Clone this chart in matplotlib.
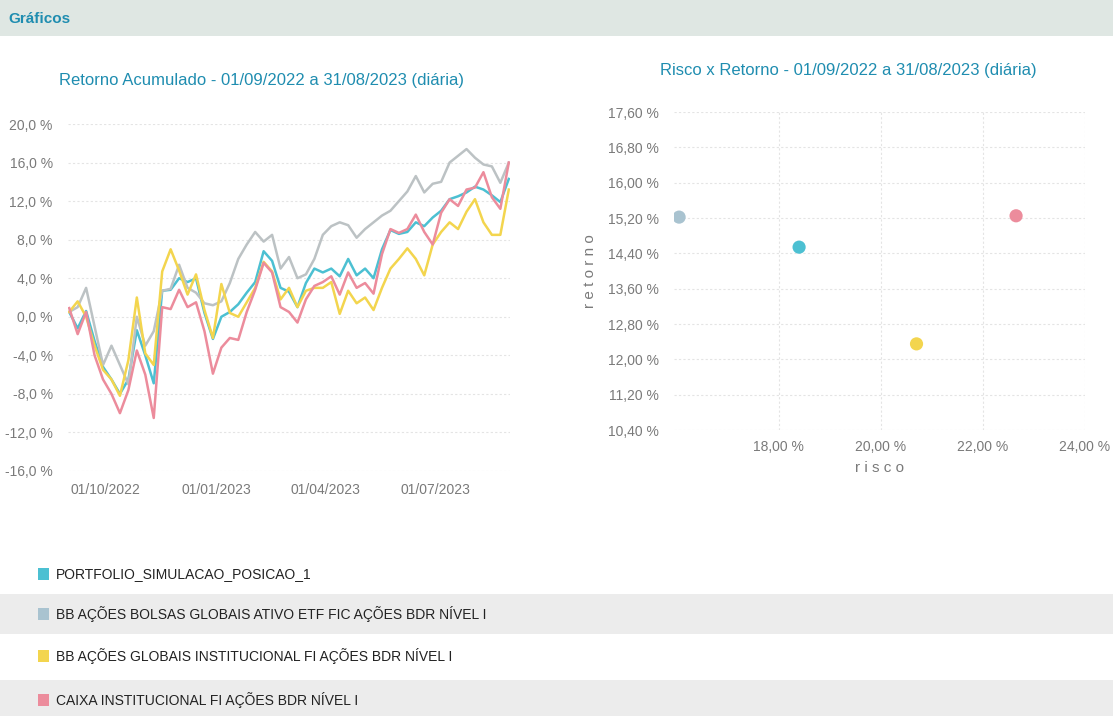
"""
Gráficos: Retorno Acumulado e Risco x Retorno (01/09/2022 a 31/08/2023).
Salva out.png.
"""

import pandas as pd
import matplotlib.pyplot as plt
import matplotlib.dates as mdates
from matplotlib.ticker import FuncFormatter, MultipleLocator
from matplotlib.patches import Rectangle

plt.rcParams["font.family"] = ["Liberation Sans", "DejaVu Sans"]

# Séries (valores semanais, % acumulado)
datas = pd.date_range("2022-09-01", periods=53, freq="7D")

portfolio = [0.5, -1.2, 0.6, -2.5, -5.2, -6.5, -8.0, -6.5, -1.4, -4.0, -6.9,
             2.7, 2.8, 4.0, 3.6, 4.0, 0.4, -2.3, 0.0, 0.5, 1.3, 2.5, 3.6,
             6.8, 5.8, 3.0, 2.6, 1.0, 3.5, 5.0, 4.6, 5.0, 4.2, 6.0, 4.3,
             5.0, 4.0, 7.0, 9.0, 8.6, 8.8, 9.8, 9.4, 10.3, 11.0, 12.2, 12.5,
             12.9, 13.5, 13.2, 12.6, 11.9, 14.3]
bb_ativo_etf = [0.5, 1.0, 3.0, -1.0, -5.0, -3.0, -5.0, -7.0, 0.0, -3.0, -1.5,
                2.7, 2.9, 5.4, 3.0, 2.5, 1.4, 1.2, 1.6, 3.5, 6.0, 7.5, 8.8,
                7.8, 8.5, 5.0, 6.2, 4.0, 4.4, 6.0, 8.5, 9.4, 9.8, 9.5, 8.2,
                9.1, 9.8, 10.5, 11.0, 12.0, 13.0, 14.6, 12.9, 13.8, 14.0, 16.0,
                16.7, 17.4, 16.5, 15.8, 15.6, 13.9, 16.0]
bb_institucional = [0.5, 1.6, 0.0, -3.0, -5.5, -6.5, -8.2, -4.5, 2.0, -3.8, -5.0,
                    4.7, 7.0, 4.8, 2.3, 4.4, 0.7, -2.2, 3.4, 0.4, 0.0, 1.5, 3.0,
                    5.7, 4.7, 1.8, 3.0, 1.0, 2.7, 3.0, 3.0, 3.6, 0.3, 2.7, 1.4,
                    2.0, 0.7, 3.0, 5.0, 6.0, 7.1, 6.0, 4.3, 7.5, 8.8, 9.8, 9.1,
                    10.9, 12.2, 9.8, 8.5, 8.5, 13.2]
caixa = [0.9, -1.8, 0.5, -4.0, -6.5, -8.0, -10.0, -7.6, -3.5, -6.0, -10.5,
         1.0, 0.8, 2.8, 1.0, 1.5, -1.5, -5.9, -3.2, -2.2, -2.4, 0.5, 2.8,
         5.6, 4.6, 1.0, 0.5, -0.6, 1.8, 3.2, 3.6, 4.2, 2.3, 4.6, 3.0,
         3.5, 2.4, 6.5, 9.1, 8.7, 9.1, 10.6, 8.8, 7.5, 10.8, 12.2, 11.5,
         13.2, 13.4, 15.0, 12.4, 11.2, 16.0]

nomes = ["PORTFOLIO_SIMULACAO_POSICAO_1",
         "BB AÇÕES BOLSAS GLOBAIS ATIVO ETF FIC AÇÕES BDR NÍVEL I",
         "BB AÇÕES GLOBAIS INSTITUCIONAL FI AÇÕES BDR NÍVEL I",
         "CAIXA INSTITUCIONAL FI AÇÕES BDR NÍVEL I"]
cores = ["#4cc0d2", "#a9c3d0", "#f3d54e", "#ec8c9c"]
cores_linha = ["#4cc0d2", "#bcc2c4", "#f3d54e", "#ec8c9c"]

# Risco x Retorno (%)
risco = [18.4, 16.05, 20.7, 22.65]
retorno = [14.54, 15.22, 12.35, 15.25]

AZUL = "#1f8db0"
CINZA = "#7a7a7a"

fig = plt.figure(figsize=(11.13, 7.16), dpi=100)
fig.patch.set_facecolor("white")

# faixa do cabeçalho
fig.add_artist(Rectangle((0, 1 - 36 / 716), 1, 36 / 716, transform=fig.transFigure,
                         facecolor="#dfe7e3", edgecolor="none", zorder=0))
fig.text(8 / 1113, 1 - 19 / 716, "Gráficos", color=AZUL, fontsize=11,
         fontweight="bold", va="center", ha="left")

# ---- Retorno acumulado ----
ax1 = fig.add_axes([68 / 1113, 1 - 471 / 716, 442 / 1113, 347 / 716])
series = [bb_ativo_etf, portfolio, bb_institucional, caixa]
ordem = [1, 0, 2, 3]
for s, i in zip(series, ordem):
    ax1.plot(datas, s, color=cores_linha[i], lw=1.8, zorder=2 + i)
ax1.set_ylim(-16, 20)
ax1.yaxis.set_major_locator(MultipleLocator(4))
ax1.yaxis.set_major_formatter(FuncFormatter(lambda v, p: f"{v:.1f} %".replace(".", ",")))
ax1.set_xlim(datas[0] - pd.Timedelta(days=1), datas[-1] + pd.Timedelta(days=1))
ax1.set_xticks(pd.to_datetime(["2022-10-01", "2023-01-01", "2023-04-01", "2023-07-01"]))
ax1.xaxis.set_major_formatter(mdates.DateFormatter("%d/%m/%Y"))
ax1.grid(axis="y", color="#e4e4e4", lw=0.8, ls=(0, (2, 2)))
ax1.set_title("Retorno Acumulado - 01/09/2022 a 31/08/2023 (diária)", color=AZUL,
              fontsize=12, loc="left", x=-0.02, pad=28)
ax1.tick_params(axis="x", pad=9)

# ---- Risco x Retorno ----
ax2 = fig.add_axes([674 / 1113, 1 - 430 / 716, 411 / 1113, 318 / 716])
ax2.scatter(risco, retorno, s=90, c=cores, zorder=3, edgecolors="none")
ax2.set_xlim(15.95, 24.0)
ax2.set_ylim(10.4, 17.6)
ax2.set_xticks([18, 20, 22, 24])
ax2.yaxis.set_major_locator(MultipleLocator(0.8))
ax2.xaxis.set_major_formatter(FuncFormatter(lambda v, p: f"{v:.2f} %".replace(".", ",")))
ax2.yaxis.set_major_formatter(FuncFormatter(lambda v, p: f"{v:.2f} %".replace(".", ",")))
ax2.grid(True, color="#e4e4e4", lw=0.8, ls=(0, (2, 2)))
ax2.set_xlabel("r i s c o", color=CINZA, fontsize=11, labelpad=5)
ax2.set_ylabel("r e t o r n o", color=CINZA, fontsize=11, labelpad=8)
ax2.set_title("Risco x Retorno - 01/09/2022 a 31/08/2023 (diária)", color=AZUL,
              fontsize=12, loc="left", x=-0.035, pad=27)
ax2.tick_params(axis="x", pad=7)

for ax in (ax1, ax2):
    for sp in ax.spines.values():
        sp.set_visible(False)
    ax.tick_params(length=0, colors=CINZA, labelsize=10)
    ax.tick_params(axis="y", pad=11)
    ax.set_facecolor("white")

# ---- Legenda ----
linhas_y = [574, 614, 656, 700]
for k, (nome, cor, yy) in enumerate(zip(nomes, cores, linhas_y)):
    if k % 2 == 1:
        fig.add_artist(Rectangle((0, 1 - (yy + 20) / 716), 1, 40 / 716,
                                 transform=fig.transFigure, facecolor="#ececec",
                                 edgecolor="none", zorder=0))
    fig.add_artist(Rectangle((38 / 1113, 1 - (yy + 6) / 716), 11 / 1113, 12 / 716,
                             transform=fig.transFigure, facecolor=cor,
                             edgecolor="none"))
    fig.text(56 / 1113, 1 - yy / 716, nome, color="#222222", fontsize=10,
             va="center", ha="left")

fig.savefig("out.png", dpi=100)
